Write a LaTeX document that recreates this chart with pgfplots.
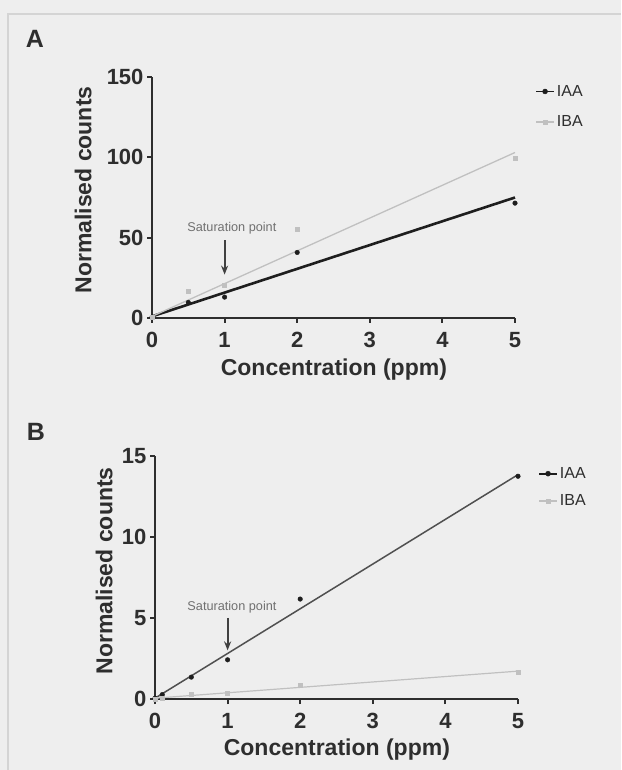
\documentclass[border=0pt]{standalone}
\usepackage{fontspec}
\setmainfont{Liberation Sans}
\usepackage{pgfplots}
\pgfplotsset{compat=1.18}
\usetikzlibrary{arrows.meta}

\definecolor{bg}{HTML}{EEEEEE}
\definecolor{framec}{HTML}{D4D4D4}
\definecolor{axc}{HTML}{2E2E2E}
\definecolor{iaa}{HTML}{1E1E1E}
\definecolor{iaab}{HTML}{505050}
\definecolor{iba}{HTML}{C0C0C0}
\definecolor{annot}{HTML}{404040}
\definecolor{annott}{HTML}{707070}

\newcommand{\labfont}{\fontsize{23}{26}\selectfont\bfseries}
\pgfplotsset{
 prism/.style={
  scale only axis, clip=false,
  width=363pt,
  axis x line=bottom, axis y line=left,
  axis line style={line width=2.8pt, color=axc, -},
  xmin=0, xmax=5, xtick={0,1,2,3,4,5},
  tick align=outside, major tick length=5pt,
  tick style={line width=2pt, color=axc},
  tick label style={font=\fontsize{22}{24}\selectfont\bfseries, text=axc},
  xticklabel style={yshift=-6pt},
  /pgf/number format/assume math mode=true,
  legend style={draw=none, fill=none, font=\fontsize{16}{18}\selectfont, text=axc, anchor=north west, inner sep=0pt},
  legend cell align=left,
 },
 iaaleg/.style={legend image code/.code={\draw[iaa, line width=1.8pt] (0pt,0pt)--(18pt,0pt); \fill[iaa] (9pt,0pt) circle (2.5pt);}},
 ibaleg/.style={legend image code/.code={\draw[iba, line width=1.4pt] (0pt,0pt)--(18pt,0pt); \fill[iba] (7pt,-2pt) rectangle (11pt,2pt);}},
}

\begin{document}
\begin{tikzpicture}[x=1pt,y=1pt]
\fill[bg] (0,0) rectangle (621,770);
\draw[framec, line width=1.5pt] (8,0) -- (8,756) -- (621,756);

\node[font=\fontsize{25}{28}\selectfont\bfseries, text=axc] at (35,731) {A};
\node[font=\fontsize{25}{28}\selectfont\bfseries, text=axc] at (36,338) {B};

% ---------- Panel A ----------
\begin{axis}[prism,
  at={(152pt,452pt)}, anchor=south west, height=241pt,
  ymin=0, ymax=150, ytick={0,50,100,150},
  xlabel={Concentration (ppm)}, ylabel={Normalised counts},
  every axis x label/.style={at={(axis description cs:0.501,-0.216)}, anchor=center, font=\labfont, text=axc},
  every axis y label/.style={at={(axis description cs:-0.19,0.531)}, rotate=90, anchor=center, font=\labfont, text=axc},
  legend style={at={(axis description cs:1.055,0.975)}, row sep=14pt},
]
\addplot[iaa, line width=2.6pt, forget plot] coordinates {(0,1) (5,75)};
\addplot[iba, line width=1.3pt, forget plot] coordinates {(0,1) (5,103)};
\addplot[only marks, mark=*, mark size=2.3pt, iaa, iaaleg] coordinates {(0,0.5) (0.5,9.7) (1,13) (2,40.8) (5,71.5)};
\addlegendentry{IAA}
\addplot[only marks, mark=square*, mark size=2pt, iba, ibaleg] coordinates {(0,0.3) (0.5,16.5) (1,20.7) (2,55.5) (5,99.3)};
\addlegendentry{IBA}
\node[font=\fontsize{12.7}{14}\selectfont, text=annott] at (axis cs:1.1,56) {Saturation point};
\draw[annot, line width=1.8pt, -{Stealth[length=9pt,width=7pt]}] (axis cs:1,48.5) -- (axis cs:1,27);
\end{axis}

% ---------- Panel B ----------
\begin{axis}[prism,
  at={(155pt,71pt)}, anchor=south west, height=243pt,
  ymin=0, ymax=15, ytick={0,5,10,15},
  xlabel={Concentration (ppm)}, ylabel={Normalised counts},
  every axis x label/.style={at={(axis description cs:0.501,-0.21)}, anchor=center, font=\labfont, text=axc},
  every axis y label/.style={at={(axis description cs:-0.14,0.527)}, rotate=90, anchor=center, font=\labfont, text=axc},
  legend style={at={(axis description cs:1.055,0.962)}, row sep=11pt},
]
\addplot[iaab, line width=1.5pt, forget plot] coordinates {(0,0.05) (5,13.85)};
\addplot[iba, line width=1.2pt, forget plot] coordinates {(0,0.05) (5,1.72)};
\addplot[only marks, mark=*, mark size=2.3pt, iaa, iaaleg] coordinates {(0,0.05) (0.1,0.27) (0.5,1.35) (1,2.42) (2,6.17) (5,13.75)};
\addlegendentry{IAA}
\addplot[only marks, mark=square*, mark size=2pt, iba, ibaleg] coordinates {(0,0.0) (0.1,0.05) (0.5,0.3) (1,0.37) (2,0.88) (5,1.66)};
\addlegendentry{IBA}
\node[font=\fontsize{12.7}{14}\selectfont, text=annott] at (axis cs:1.06,5.68) {Saturation point};
\draw[annot, line width=1.8pt, -{Stealth[length=9pt,width=7pt]}] (axis cs:1,5.0) -- (axis cs:1,3.0);
\end{axis}

\pgfresetboundingbox
\path[use as bounding box] (0,0) rectangle (621,770);
\end{tikzpicture}
\end{document}
